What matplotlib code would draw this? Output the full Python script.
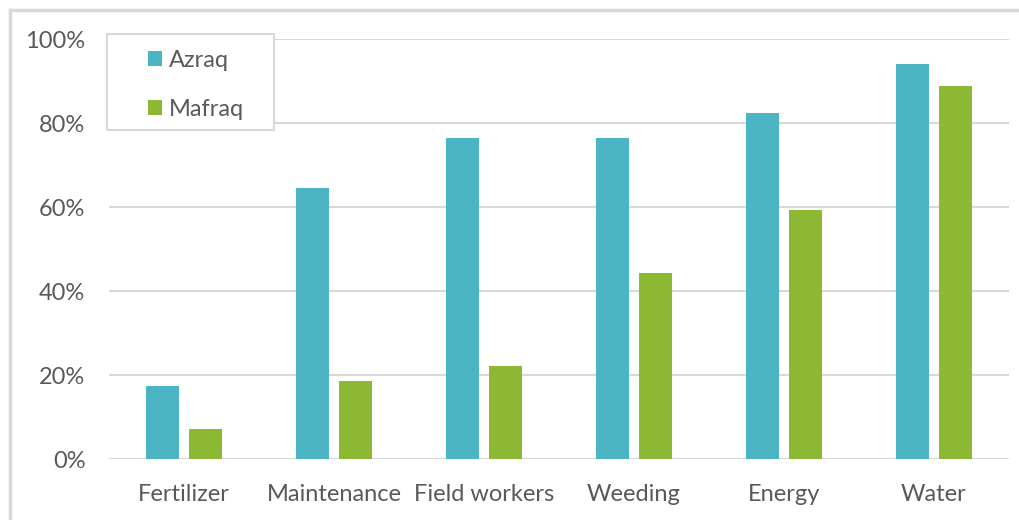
import matplotlib
matplotlib.use("Agg")
import matplotlib.pyplot as plt
import numpy as np
from matplotlib.patches import Rectangle
from matplotlib.lines import Line2D
from matplotlib.ticker import FuncFormatter

categories = ["Fertilizer", "Maintenance", "Field workers", "Weeding", "Energy", "Water"]
azraq = [0.174, 0.645, 0.764, 0.764, 0.823, 0.941]
mafraq = [0.072, 0.186, 0.222, 0.442, 0.592, 0.888]
series_names = ["Azraq", "Mafraq"]
yticks = [0, 0.2, 0.4, 0.6, 0.8, 1.0]

AZRAQ_COLOR = "#4BB5C4"
MAFRAQ_COLOR = "#8CB833"
TEXT_COLOR = "#595959"
GRID_COLOR = "#D9D9D9"
FS = 17

plt.rcParams["font.family"] = ["Lato", "DejaVu Sans"]

W, H = 1020, 520
fig = plt.figure(figsize=(W / 100, H / 100), dpi=100)
ax = fig.add_axes([109 / W, (H - 459) / H, 900 / W, 420 / H])

x = np.arange(len(categories))
width = 0.22
offset = 0.143
ax.bar(x - offset, azraq, width, color=AZRAQ_COLOR, label=series_names[0], zorder=3)
ax.bar(x + offset, mafraq, width, color=MAFRAQ_COLOR, label=series_names[1], zorder=3)

ax.set_xlim(-0.5, len(categories) - 0.5)
ax.set_ylim(0, 1.0)
ax.set_yticks(yticks)
ax.yaxis.set_major_formatter(FuncFormatter(lambda v, _: f"{v * 100:.0f}%"))
ax.set_xticks(x)
ax.set_xticklabels(categories)

ax.grid(axis="y", color=GRID_COLOR, linewidth=1.5, zorder=0)
ax.set_axisbelow(True)
for side in ["top", "right", "left", "bottom"]:
    ax.spines[side].set_visible(False)
ax.tick_params(axis="both", length=0, labelsize=FS, colors=TEXT_COLOR)
ax.tick_params(axis="y", pad=17)
ax.tick_params(axis="x", pad=18)

# legend box with its own frame
frame = Rectangle((107 / W, 1 - 130 / H), 167 / W, 96 / H, transform=fig.transFigure,
                  facecolor="white", edgecolor=GRID_COLOR, linewidth=1.5,
                  clip_on=False, zorder=5)
ax.add_artist(frame)
leg = ax.legend(loc="upper left", bbox_to_anchor=(131 / W, 1 - 33 / H),
                bbox_transform=fig.transFigure, frameon=False, fontsize=FS,
                handlelength=0.62, handleheight=0.62, handletextpad=0.3,
                labelspacing=1.2, borderpad=0.2, labelcolor=TEXT_COLOR)
leg.set_zorder(6)

# outer chart border (top and left edges)
fig.add_artist(Line2D([10 / W, 1.0], [1 - 10 / H, 1 - 10 / H], transform=fig.transFigure,
                      color=GRID_COLOR, linewidth=2.5))
fig.add_artist(Line2D([10 / W, 10 / W], [0, 1 - 10 / H], transform=fig.transFigure,
                      color=GRID_COLOR, linewidth=2.5))

fig.savefig("out.png", dpi=100)
